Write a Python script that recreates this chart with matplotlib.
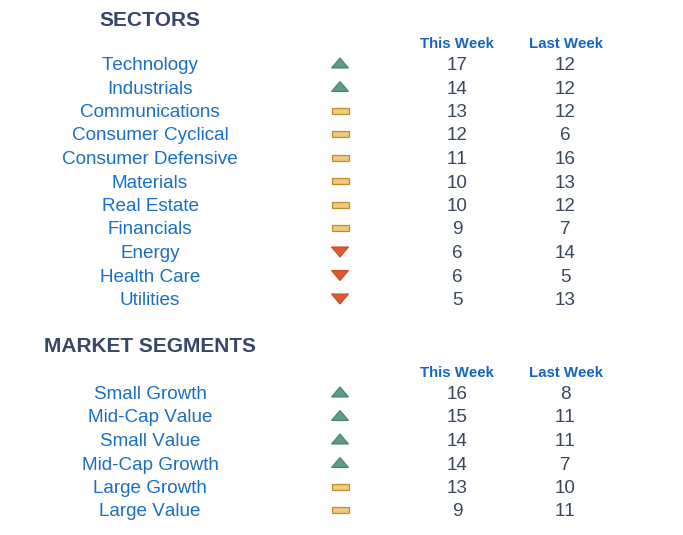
import matplotlib.pyplot as plt
from matplotlib.patches import Polygon, Rectangle

# data
sectors = ["Technology", "Industrials", "Communications", "Consumer Cyclical",
           "Consumer Defensive", "Materials", "Real Estate", "Financials",
           "Energy", "Health Care", "Utilities"]
sector_this = [17, 14, 13, 12, 11, 10, 10, 9, 6, 6, 5]
sector_last = [12, 12, 12, 6, 16, 13, 12, 7, 14, 5, 13]
sector_trend = ["up", "up", "flat", "flat", "flat", "flat", "flat", "flat", "down", "down", "down"]

segments = ["Small Growth", "Mid-Cap Value", "Small Value", "Mid-Cap Growth",
            "Large Growth", "Large Value"]
segment_this = [16, 15, 14, 14, 13, 9]
segment_last = [8, 11, 11, 7, 10, 11]
segment_trend = ["up", "up", "up", "up", "flat", "flat"]

plt.rcParams['font.family'] = ['Liberation Sans', 'DejaVu Sans']
plt.rcParams['text.kerning_factor'] = 6  # no kerning, so "11" is not squeezed

W, H = 683, 535
fig = plt.figure(figsize=(W / 100, H / 100), dpi=100)
ax = fig.add_axes([0, 0, 1, 1])
ax.set_xlim(0, W)
ax.set_ylim(H, 0)
ax.axis("off")

name_col = "#1a6fc4"
num_col = "#3a475c"
title_col = "#37476a"
head_col = "#1565c0"

X_NAME, X_ICON, X_THIS, X_LAST = 150, 340, 457, 565
ROW_H = 23.5
DY = 2  # text sits a bit low against its box centre


def icon(x, y, kind):
    if kind == "up":
        ax.add_patch(Polygon([[x - 8.5, y + 4.5], [x + 8.5, y + 4.5], [x, y - 5.5]],
                             closed=True, fc="#5e9d84", ec="#4a8069", lw=0.8))
    elif kind == "down":
        ax.add_patch(Polygon([[x - 8.5, y - 4.5], [x + 8.5, y - 4.5], [x, y + 5.5]],
                             closed=True, fc="#db5a32", ec="#c44a26", lw=0.8))
    else:
        ax.add_patch(Rectangle((x - 8.5, y - 3), 17, 6, fc="#f2c97c", ec="#b8912f", lw=0.9))


def block(title, title_y, names, this, last, trend):
    ax.text(X_NAME, title_y + DY, title, ha="center", va="center", fontsize=15,
            fontweight="bold", color=title_col)
    hy = title_y + 23 if title == "SECTORS" else title_y + 26
    ax.text(X_THIS, hy + DY, "This Week", ha="center", va="center", fontsize=10.8,
            fontweight="bold", color=head_col)
    ax.text(X_LAST + 1, hy + DY, "Last Week", ha="center", va="center", fontsize=10.8,
            fontweight="bold", color=head_col)
    y0 = hy + 21.5
    for i, n in enumerate(names):
        y = y0 + i * ROW_H
        ax.text(X_NAME, y + DY, n, ha="center", va="center", fontsize=13.6, color=name_col)
        icon(X_ICON, y, trend[i])
        ax.text(X_THIS, y + DY, str(this[i]), ha="center", va="center", fontsize=13.6, color=num_col)
        ax.text(X_LAST, y + DY, str(last[i]), ha="center", va="center", fontsize=13.6, color=num_col)


block("SECTORS", 19, sectors, sector_this, sector_last, sector_trend)
block("MARKET SEGMENTS", 345, segments, segment_this, segment_last, segment_trend)

fig.savefig("out.png", dpi=100)
